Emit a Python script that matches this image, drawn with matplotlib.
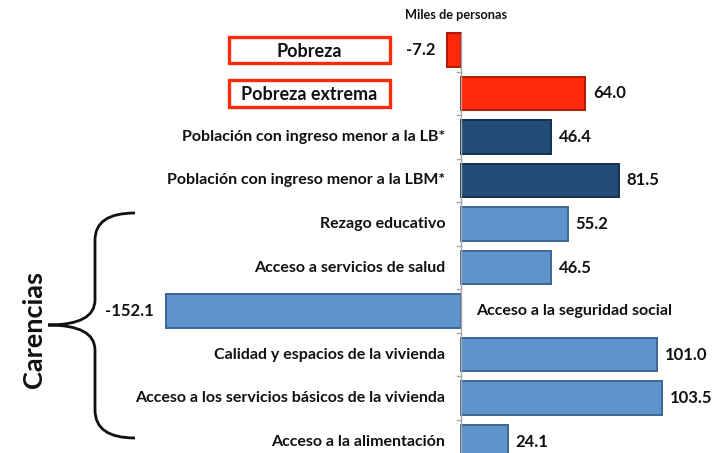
#!/usr/bin/env python3
"""Cambio en pobreza y carencias (miles de personas), barras horizontales."""

import matplotlib.pyplot as plt
from matplotlib.patches import Rectangle, PathPatch
from matplotlib.path import Path

CATEGORIES = [
    "Pobreza",
    "Pobreza extrema",
    "Población con ingreso menor a la LB*",
    "Población con ingreso menor a la LBM*",
    "Rezago educativo",
    "Acceso a servicios de salud",
    "Acceso a la seguridad social",
    "Calidad y espacios de la vivienda",
    "Acceso a los servicios básicos de la vivienda",
    "Acceso a la alimentación",
]
VALUES = [-7.2, 64.0, 46.4, 81.5, 55.2, 46.5, -152.1, 101.0, 103.5, 24.1]
GROUPS = ["pobreza", "pobreza", "ingreso", "ingreso",
          "carencia", "carencia", "carencia", "carencia", "carencia", "carencia"]

COLORS = {"pobreza": "#FF2A0A", "ingreso": "#244C78", "carencia": "#5F93CC"}
EDGES = {"pobreza": "#B01800", "ingreso": "#12304F", "carencia": "#3A6796"}

FONT = ["Lato", "DejaVu Sans"]


def main():
    plt.rcParams["font.family"] = FONT
    fig = plt.figure(figsize=(7.17, 4.53), dpi=100)
    ax = fig.add_axes([0, 0, 1, 1])
    ax.set_xlim(-237.6, 132.0)
    ax.set_ylim(9.264, -1.149)
    ax.axis("off")

    ypos = list(range(len(CATEGORIES)))
    ax.barh(ypos, VALUES, height=0.76,
            color=[COLORS[g] for g in GROUPS],
            edgecolor=[EDGES[g] for g in GROUPS], linewidth=1.4, zorder=2)

    # eje vertical en cero con marcas entre categorías
    ax.plot([0, 0], [-0.38, 9.264], color="#A6A6A6", lw=1.0, zorder=3)
    for b in range(len(CATEGORIES)):
        ax.plot([-2.2, 0], [b + 0.5, b + 0.5], color="#A6A6A6", lw=1.0, zorder=3)

    for y, (cat, val, grp) in enumerate(zip(CATEGORIES, VALUES, GROUPS)):
        # etiqueta de valor
        if val >= 0:
            ax.text(val + 4, y, f"{val:.1f}", ha="left", va="center",
                    fontsize=12, fontweight="bold", color="#111111")
        else:
            ax.text(val - 6, y, f"{val:.1f}", ha="right", va="center",
                    fontsize=12, fontweight="bold", color="#111111")

        # etiqueta de categoría
        if grp == "pobreza":
            ax.add_patch(Rectangle((-119.5, y - 0.3), 83, 0.6, fc="white",
                                   ec="#FF2A0A", lw=2.4, zorder=2))
            ax.text(-78, y + 0.03, cat, ha="center", va="center", fontsize=13,
                    fontweight="bold", color="#111111", zorder=3)
        elif val < 0:
            ax.text(8, y, cat, ha="left", va="center", fontsize=11.5,
                    fontweight="bold", color="#111111")
        else:
            ax.text(-8, y, cat, ha="right", va="center", fontsize=11.5,
                    fontweight="bold", color="#111111")

    fig.text(456 / 717, 1 - 15 / 453, "Miles de personas", ha="center",
             va="center", fontsize=9.2, fontweight="bold", color="#111111")

    fig.text(34 / 717, 1 - 330 / 453, "Carencias", ha="center", va="center",
             rotation=90, fontsize=19.5, fontweight="bold", color="#111111")

    # llave
    W, H = 717.0, 453.0
    verts = [(135, 213), (95, 213), (95, 240), (95, 300),
             (95, 325), (48, 325),
             (95, 325), (95, 350), (95, 410), (95, 438), (135, 438)]
    codes = [Path.MOVETO, Path.CURVE3, Path.CURVE3, Path.LINETO,
             Path.CURVE3, Path.CURVE3,
             Path.CURVE3, Path.CURVE3, Path.LINETO,
             Path.CURVE3, Path.CURVE3]
    verts = [(x / W, 1 - y / H) for x, y in verts]
    brace = PathPatch(Path(verts, codes), fc="none", ec="#111111", lw=2.0,
                      transform=fig.transFigure)
    fig.add_artist(brace)

    fig.savefig("out.png", dpi=100)


if __name__ == "__main__":
    main()
